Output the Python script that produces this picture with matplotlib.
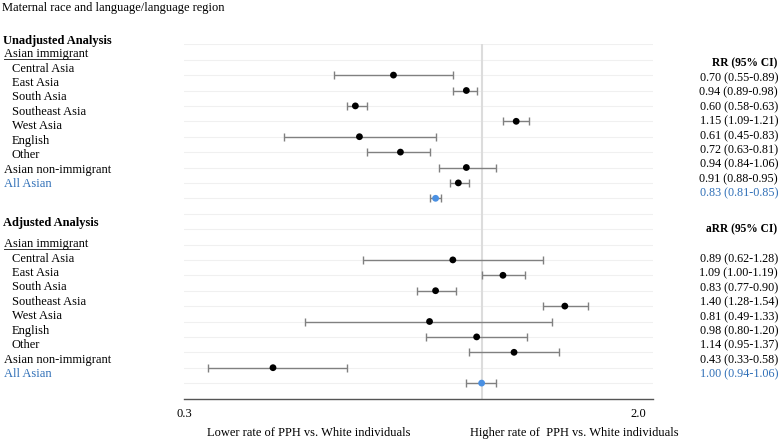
import numpy as np
import matplotlib.pyplot as plt
import matplotlib.transforms as mtransforms
from matplotlib.lines import Line2D

plt.rcParams['font.family'] = ['Liberation Serif', 'DejaVu Serif']

# row labels (left column)
sub_labels = ["Central Asia", "East Asia", "South Asia", "Southeast Asia",
              "West Asia", "English", "Other"]
group_labels = ["Asian non-immigrant", "All Asian"]

# unadjusted RR (95% CI)
rr = [0.70, 0.94, 0.60, 1.15, 0.61, 0.72, 0.94, 0.91, 0.83]
rr_lo = [0.55, 0.89, 0.58, 1.09, 0.45, 0.63, 0.84, 0.88, 0.81]
rr_hi = [0.89, 0.98, 0.63, 1.21, 0.83, 0.81, 1.06, 0.95, 0.85]

# adjusted aRR (95% CI)
arr = [0.89, 1.09, 0.83, 1.40, 0.81, 0.98, 1.14, 0.43, 1.00]
arr_lo = [0.62, 1.00, 0.77, 1.28, 0.49, 0.80, 0.95, 0.33, 0.94]
arr_hi = [1.28, 1.19, 0.90, 1.54, 1.33, 1.20, 1.37, 0.58, 1.06]

W, H = 781, 442
blue_txt = '#2f6fb7'
blue_pt = '#4a90e2'

fig = plt.figure(figsize=(W / 100, H / 100), dpi=100)
ax = fig.add_axes([184 / W, 1 - 398.5 / H, (653 - 184) / W, (398.5 - 44.3) / H])

n_rows = 23
for r in range(n_rows):
    ax.axhline(r, color='#f0f0f0', lw=0.8, zorder=0)
ax.axvline(1.0, color='#dcdcdc', lw=1.5, zorder=1)


def draw(vals, lo, hi, start):
    y = np.arange(start, start + len(vals))
    v = np.array(vals)
    err = [v - np.array(lo), np.array(hi) - v]
    ax.errorbar(v, y, xerr=err, fmt='none', ecolor='#808080', elinewidth=1,
                capsize=3, capthick=1, zorder=2)
    cols = ['black'] * (len(vals) - 1) + [blue_pt]
    ax.scatter(v, y, s=24, c=cols, zorder=3, edgecolors='none')


draw(rr, rr_lo, rr_hi, 2)
draw(arr, arr_lo, arr_hi, 14)

ax.set_xscale('log')
ax.set_xlim(0.3, 2.0)
ax.set_ylim(n_rows, 0)
ax.set_yticks([])
ax.set_xticks([0.3, 2.0])
ax.set_xticks([], minor=True)
ax.set_xticklabels(['0.3', '2.0'], fontsize=9)
ax.tick_params(axis='x', length=0, pad=7)
lab2 = ax.get_xticklabels()[1]
lab2.set_horizontalalignment('right')
lab2.set_transform(lab2.get_transform() + mtransforms.ScaledTranslation(-7 / 100, 0, fig.dpi_scale_trans))
for s in ['top', 'left', 'right']:
    ax.spines[s].set_visible(False)
ax.spines['bottom'].set_color('#555555')
ax.spines['bottom'].set_linewidth(1)


def ftext(x, y, s, **kw):
    kw.setdefault('fontsize', 9)
    kw.setdefault('va', 'center')
    return fig.text(x / W, 1 - y / H, s, **kw)


ftext(2, 8, "Maternal race and language/language region")

blocks = [("Unadjusted Analysis", 41, 54, 68.5, "RR (95% CI)", 63, 78, rr, rr_lo, rr_hi),
          ("Adjusted Analysis", 223, 244, 258.5, "aRR (95% CI)", 229, 259, arr, arr_lo, arr_hi)]
step = 14.45
for title, ty, iy, sy, head, hy, vy, v, lo, hi in blocks:
    ftext(3, ty, title, fontweight='bold')
    ftext(4, iy, "Asian immigrant")
    fig.add_artist(Line2D([4 / W, 79 / W], [1 - (iy + 5) / H] * 2, color='#333333', lw=0.7))
    for i, lab in enumerate(sub_labels):
        ftext(12, sy + i * step, lab)
    ftext(4, sy + 7 * step, group_labels[0])
    ftext(4, sy + 8 * step, group_labels[1], color=blue_txt)
    ftext(777, hy, head, fontweight='bold', ha='right', fontsize=8.3)
    for i in range(len(v)):
        ftext(778, vy + i * step, f"{v[i]:.2f} ({lo[i]:.2f}-{hi[i]:.2f})", ha='right',
              fontsize=8.7, color=blue_txt if i == len(v) - 1 else 'black')

ftext(309, 433, "Lower rate of PPH vs. White individuals", ha='center')
ftext(574, 433, "Higher rate of  PPH vs. White individuals", ha='center')

fig.savefig("out.png", dpi=100)
